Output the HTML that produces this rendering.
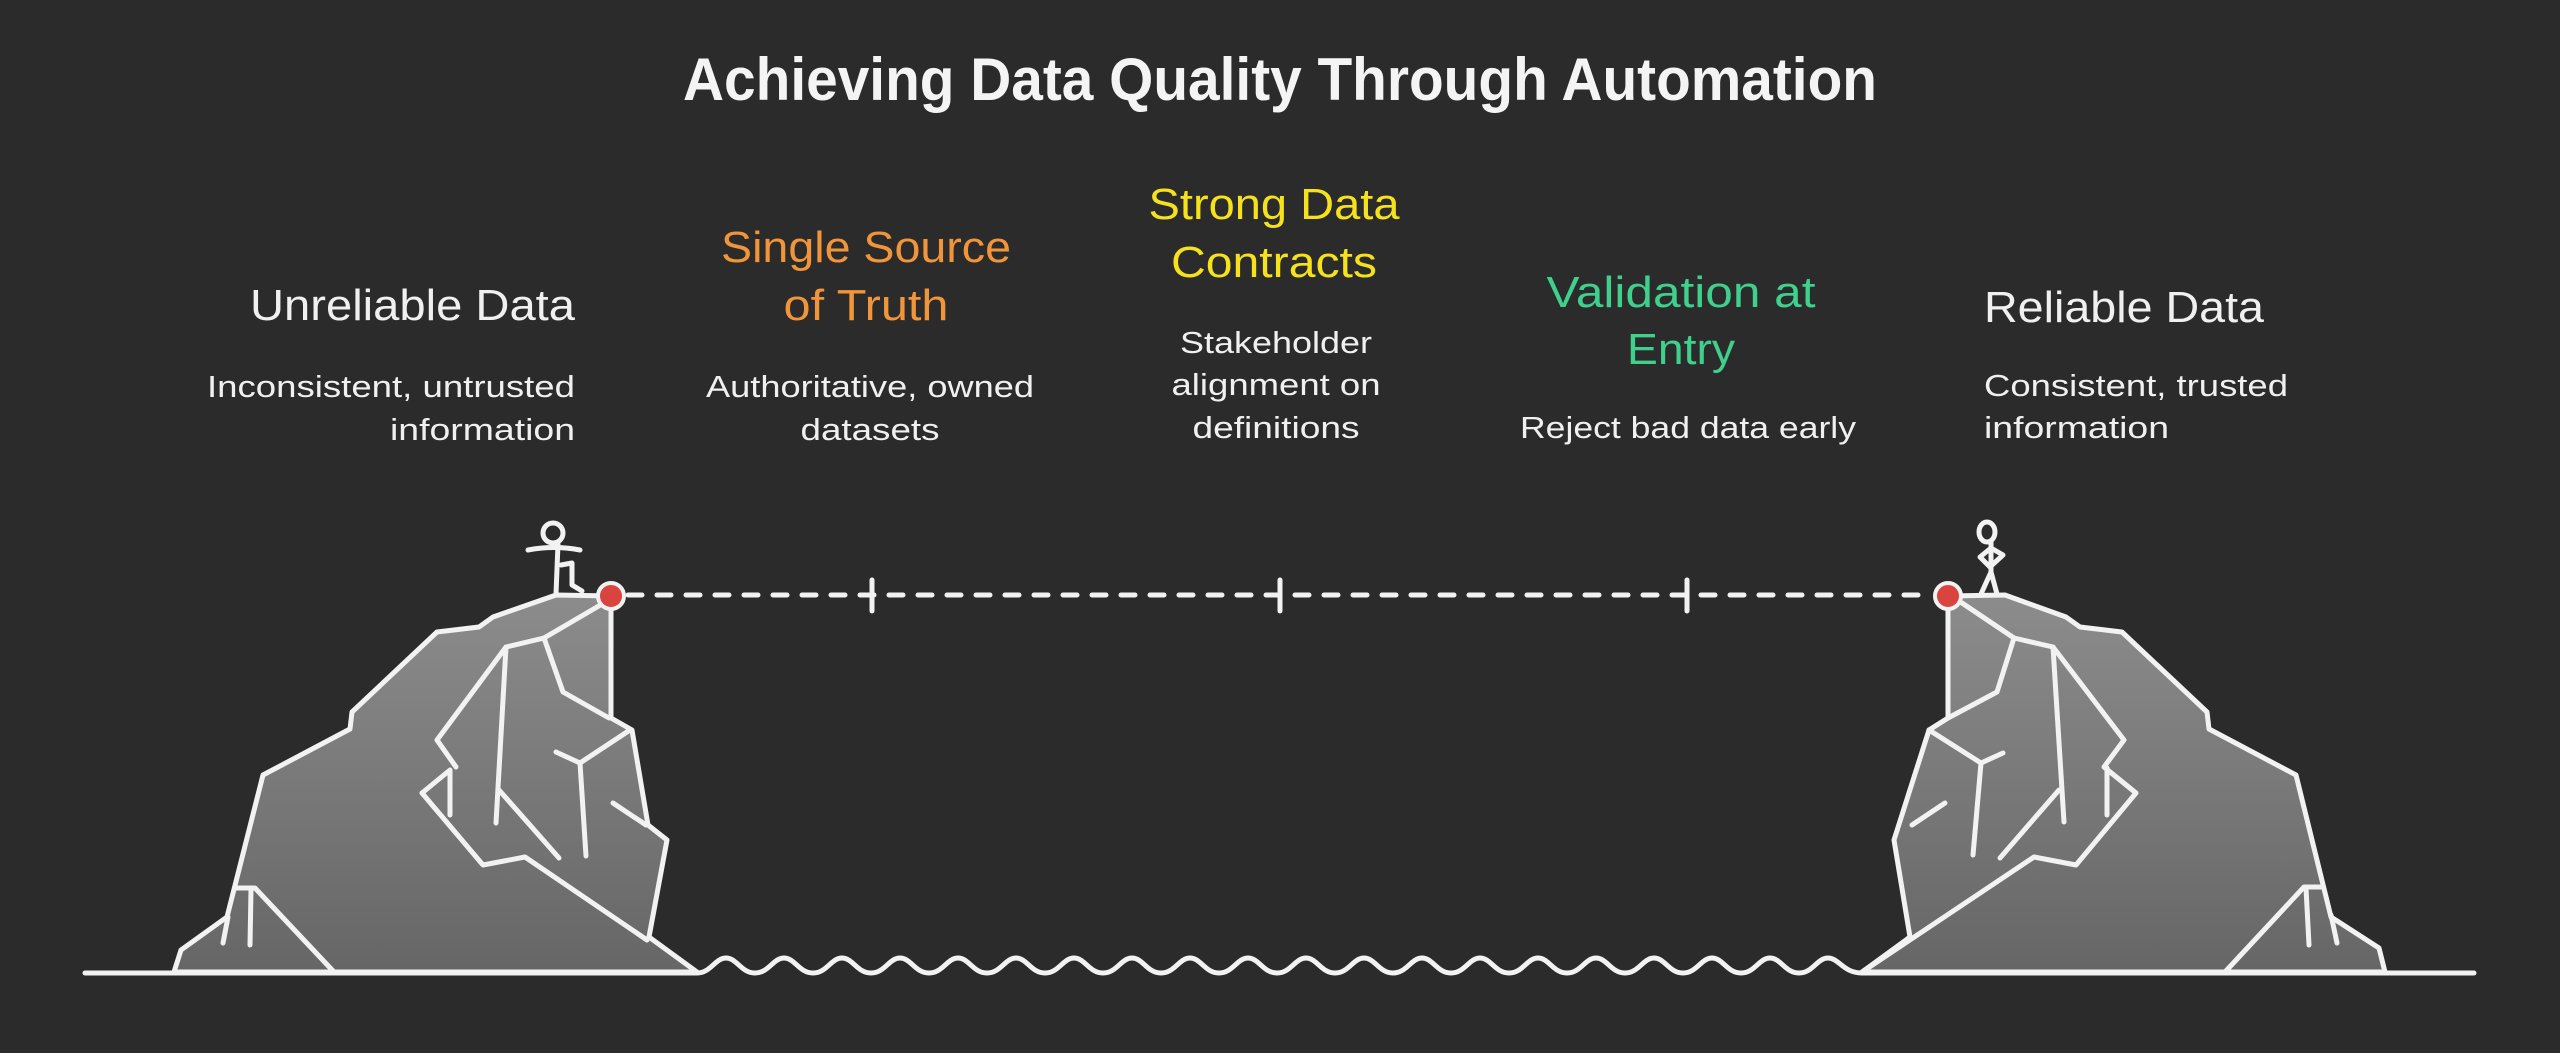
<!DOCTYPE html>
<html><head><meta charset="utf-8"><style>
html,body{margin:0;padding:0;background:#2b2b2b;}
svg{display:block;}
text{font-family:"Liberation Sans",sans-serif;}
</style></head><body>
<svg width="2560" height="1053" viewBox="0 0 2560 1053" xmlns="http://www.w3.org/2000/svg">
<defs>
<linearGradient id="g" x1="0" y1="0" x2="0" y2="1">
<stop offset="0" stop-color="#8c8c8c"/><stop offset="1" stop-color="#666"/>
</linearGradient>
</defs>
<rect width="2560" height="1053" fill="#2b2b2b"/>

<text x="1280" y="100" text-anchor="middle" font-size="60" font-weight="bold" fill="#f4f4f4" textLength="1194" lengthAdjust="spacingAndGlyphs">Achieving Data Quality Through Automation</text>

<g font-size="44">
<text x="575" y="320" text-anchor="end" fill="#f0f0f0" textLength="325" lengthAdjust="spacingAndGlyphs">Unreliable Data</text>
<text x="866" y="262" text-anchor="middle" fill="#f0953a" textLength="290" lengthAdjust="spacingAndGlyphs">Single Source</text>
<text x="866" y="320" text-anchor="middle" fill="#f0953a" textLength="165" lengthAdjust="spacingAndGlyphs">of Truth</text>
<text x="1274" y="219" text-anchor="middle" fill="#f5e21c" textLength="251" lengthAdjust="spacingAndGlyphs">Strong Data</text>
<text x="1274" y="277" text-anchor="middle" fill="#f5e21c" textLength="206" lengthAdjust="spacingAndGlyphs">Contracts</text>
<text x="1681" y="307" text-anchor="middle" fill="#3fd08e" textLength="269" lengthAdjust="spacingAndGlyphs">Validation at</text>
<text x="1681" y="364" text-anchor="middle" fill="#3fd08e" textLength="108" lengthAdjust="spacingAndGlyphs">Entry</text>
<text x="1984" y="322" fill="#f0f0f0" textLength="280" lengthAdjust="spacingAndGlyphs">Reliable Data</text>
</g>
<g font-size="31" fill="#f0f0f0">
<text x="575" y="397" text-anchor="end" textLength="368" lengthAdjust="spacingAndGlyphs">Inconsistent, untrusted</text>
<text x="575" y="440" text-anchor="end" textLength="185" lengthAdjust="spacingAndGlyphs">information</text>
<text x="870" y="397" text-anchor="middle" textLength="328" lengthAdjust="spacingAndGlyphs">Authoritative, owned</text>
<text x="870" y="440" text-anchor="middle" textLength="139" lengthAdjust="spacingAndGlyphs">datasets</text>
<text x="1276" y="353" text-anchor="middle" textLength="192" lengthAdjust="spacingAndGlyphs">Stakeholder</text>
<text x="1276" y="395" text-anchor="middle" textLength="209" lengthAdjust="spacingAndGlyphs">alignment on</text>
<text x="1276" y="438" text-anchor="middle" textLength="167" lengthAdjust="spacingAndGlyphs">definitions</text>
<text x="1688" y="438" text-anchor="middle" textLength="336" lengthAdjust="spacingAndGlyphs">Reject bad data early</text>
<text x="1984" y="396" textLength="304" lengthAdjust="spacingAndGlyphs">Consistent, trusted</text>
<text x="1984" y="438" textLength="185" lengthAdjust="spacingAndGlyphs">information</text>
</g>

<g stroke="#f2f2f2" stroke-width="5" stroke-linecap="round" stroke-linejoin="round" fill="none">
<!-- ground -->
<line x1="85" y1="973" x2="697" y2="973"/>
<line x1="1862" y1="973" x2="2474" y2="973"/>
<!-- wave -->
<path d="M697 973 C711 973 715 958 726 958 C737 958 741 973 755 973 C769 973 773 958 784 958 C795 958 799 973 813 973 C827 973 831 958 842 958 C853 958 857 973 871 973 C885 973 889 958 900 958 C911 958 915 973 929 973 C943 973 947 958 958 958 C969 958 973 973 987 973 C1001 973 1005 958 1016 958 C1027 958 1031 973 1045 973 C1059 973 1063 958 1074 958 C1085 958 1089 973 1103 973 C1117 973 1121 958 1132 958 C1143 958 1147 973 1161 973 C1175 973 1179 958 1190 958 C1201 958 1205 973 1219 973 C1233 973 1237 958 1248 958 C1259 958 1263 973 1277 973 C1291 973 1295 958 1306 958 C1317 958 1321 973 1335 973 C1349 973 1353 958 1364 958 C1375 958 1379 973 1393 973 C1407 973 1411 958 1422 958 C1433 958 1437 973 1451 973 C1465 973 1469 958 1480 958 C1491 958 1495 973 1509 973 C1523 973 1527 958 1538 958 C1549 958 1553 973 1567 973 C1581 973 1585 958 1596 958 C1607 958 1611 973 1625 973 C1639 973 1643 958 1654 958 C1665 958 1669 973 1683 973 C1697 973 1701 958 1712 958 C1723 958 1727 973 1741 973 C1755 973 1759 958 1770 958 C1781 958 1785 973 1799 973 C1813 973 1817 958 1828 958 C1839 958 1843 973 1862 973"/>
</g>

<!-- left cliff -->
<g stroke="#f2f2f2" stroke-width="5" stroke-linecap="round" stroke-linejoin="round">
<path fill="url(#g)" d="M174 972 L181 950 L227 917 L263 775 L350 729 L352 712 L437 632 L479 627 L493 617 L556 595 L611 596 L611 718 L632 730 L648 825 L667 840 L649 937 L697 972 Z"/>
<g fill="none">
<polyline points="422,793 483,865 525,857 647,940"/>
<polyline points="422,793 450,770 450,815"/>
<polyline points="456,767 437,740 506,647 544,638 609,600"/>
<line x1="506" y1="647" x2="496" y2="823"/>
<polyline points="544,638 563,692 609,718"/>
<polyline points="630,730 580,763 556,752"/>
<line x1="580" y1="763" x2="586" y2="856"/>
<line x1="499" y1="790" x2="559" y2="858"/>
<line x1="613" y1="803" x2="646" y2="825"/>
<polyline points="235,888 255,888 334,972"/>
<line x1="223" y1="943" x2="228" y2="917"/>
<line x1="251" y1="890" x2="250" y2="945"/>
<!-- figure -->
<circle cx="553" cy="533" r="10"/>
<path d="M528 550 Q554 545 580 550"/>
<line x1="558" y1="544" x2="556" y2="594"/>
<polyline points="561,565 572,563 572,585 582,591"/>
</g>
</g>

<!-- right cliff -->
<g stroke="#f2f2f2" stroke-width="5" stroke-linecap="round" stroke-linejoin="round">
<path fill="url(#g)" d="M1862 972 L1910 937 L1894 840 L1929 730 L1948 718 L1948 596 L2005 595 L2066 617 L2080 627 L2122 632 L2207 712 L2209 729 L2296 775 L2331 917 L2379 948 L2385 972 Z"/>
<g fill="none">
<polyline points="1948,718 1997,692 2014,638 2053,647"/>
<line x1="1962" y1="603" x2="2014" y2="638"/>
<polyline points="2053,647 2124,740 2104,767 2136,793 2076,865 2034,857 1862,972"/>
<polyline points="1929,730 1981,763 2003,753"/>
<line x1="1981" y1="763" x2="1973" y2="855"/>
<line x1="2053" y1="647" x2="2064" y2="822"/>
<line x1="2059" y1="790" x2="2000" y2="858"/>
<line x1="2107" y1="768" x2="2107" y2="815"/>
<line x1="1912" y1="825" x2="1945" y2="803"/>
<polyline points="2225,972 2304,887 2321,887"/>
<line x1="2306" y1="888" x2="2309" y2="945"/>
<line x1="2331" y1="915" x2="2337" y2="943"/>
<!-- figure -->
<ellipse cx="1987" cy="532" rx="8" ry="10"/>
<line x1="1991" y1="542" x2="1991" y2="572"/>
<polyline points="1991,548 1980,557 1991,568"/>
<polyline points="1991,548 2003,555 1991,566"/>
<polyline points="1981,594 1991,572 1997,594"/>
</g>
</g>

<!-- dashed line -->
<g stroke="#f2f2f2" stroke-width="5" stroke-linecap="round" fill="none">
<line x1="628" y1="595" x2="1932" y2="595" stroke-dasharray="14 15"/>
<line x1="872" y1="580" x2="872" y2="611"/>
<line x1="1280" y1="580" x2="1280" y2="611"/>
<line x1="1687" y1="580" x2="1687" y2="611"/>
</g>
<circle cx="611" cy="596" r="13" fill="#d9443f" stroke="#f2f2f2" stroke-width="4"/>
<circle cx="1948" cy="596" r="13" fill="#d9443f" stroke="#f2f2f2" stroke-width="4"/>
</svg>
</body></html>
